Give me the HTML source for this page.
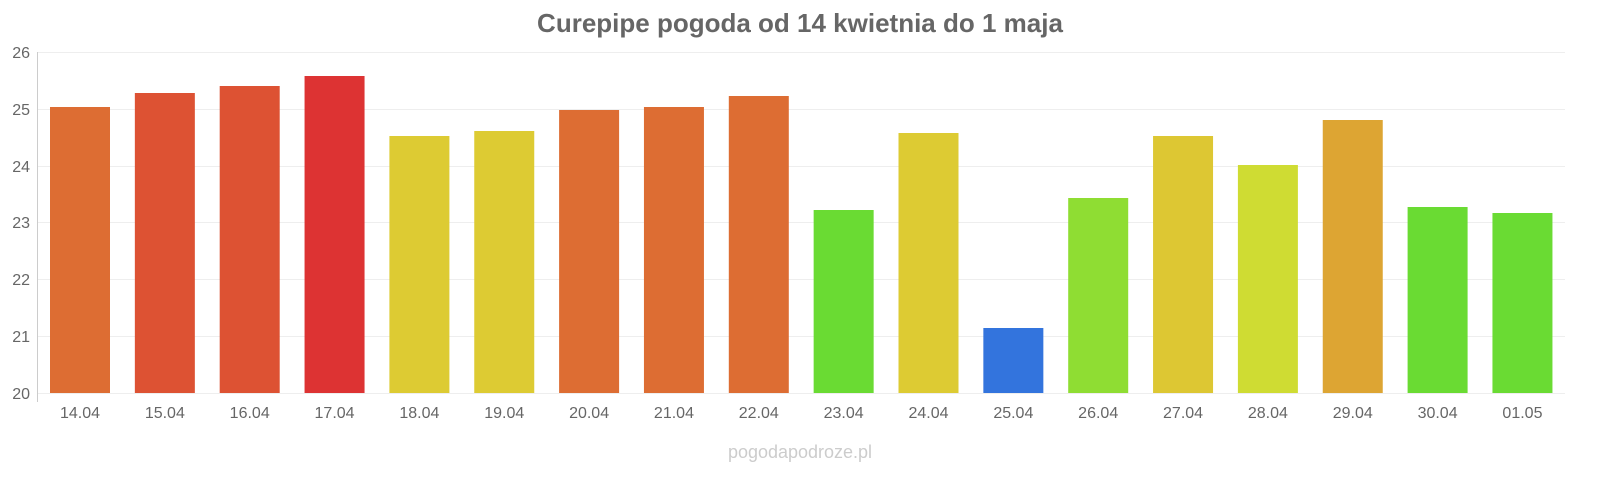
<!DOCTYPE html>
<html><head><meta charset="utf-8"><style>
body{margin:0;background:#fff;}
svg text{font-family:"Liberation Sans",sans-serif;}
</style></head><body>
<svg width="1600" height="480" xmlns="http://www.w3.org/2000/svg">
<text x="800" y="32" text-anchor="middle" font-size="26" font-weight="bold" fill="#666">Curepipe pogoda od 14 kwietnia do 1 maja</text>
<g stroke="#eee" stroke-width="1">
<line x1="38" x2="1565" y1="52.5" y2="52.5"/>
<line x1="38" x2="1565" y1="109.5" y2="109.5"/>
<line x1="38" x2="1565" y1="166.5" y2="166.5"/>
<line x1="38" x2="1565" y1="222.5" y2="222.5"/>
<line x1="38" x2="1565" y1="279.5" y2="279.5"/>
<line x1="38" x2="1565" y1="336.5" y2="336.5"/>
<line x1="38" x2="1565" y1="393.5" y2="393.5"/>
</g>
<line x1="37.5" x2="37.5" y1="52" y2="402" stroke="#ccc"/>
<g font-size="16" fill="#666" text-anchor="end">
<text x="30" y="58">26</text><text x="30" y="115">25</text><text x="30" y="172">24</text><text x="30" y="228">23</text><text x="30" y="285">22</text><text x="30" y="342">21</text><text x="30" y="399">20</text>
</g>
<g id="bars"></g>
<g id="labels" font-size="16" fill="#666" text-anchor="middle"></g>
<text x="800" y="458" text-anchor="middle" font-size="18" fill="#ccc">pogodapodroze.pl</text>
</svg>
<script>
var d=[["14.04",107,"#dd6d33"],["15.04",93,"#dd5233"],["16.04",86,"#dd5233"],["17.04",76,"#dd3333"],["18.04",136,"#ddcb33"],["19.04",131,"#ddcb33"],["20.04",110,"#dd6d33"],["21.04",107,"#dd6d33"],["22.04",96,"#dd6d33"],["23.04",210,"#6adb33"],["24.04",133,"#ddcb33"],["25.04",328,"#3374dd"],["26.04",198,"#8fdd33"],["27.04",136,"#ddc733"],["28.04",165,"#cfdc33"],["29.04",120,"#dda533"],["30.04",207,"#6adb33"],["01.05",213,"#6adb33"]];
var ns="http://www.w3.org/2000/svg",b=document.getElementById("bars"),l=document.getElementById("labels");
d.forEach(function(e,i){var cx=80+i*84.85;var r=document.createElementNS(ns,"rect");r.setAttribute("x",cx-30);r.setAttribute("y",e[1]);r.setAttribute("width",60);r.setAttribute("height",393-e[1]);r.setAttribute("fill",e[2]);b.appendChild(r);
var t=document.createElementNS(ns,"text");t.setAttribute("x",cx);t.setAttribute("y",418);t.textContent=e[0];l.appendChild(t);});
</script>
</body></html>
